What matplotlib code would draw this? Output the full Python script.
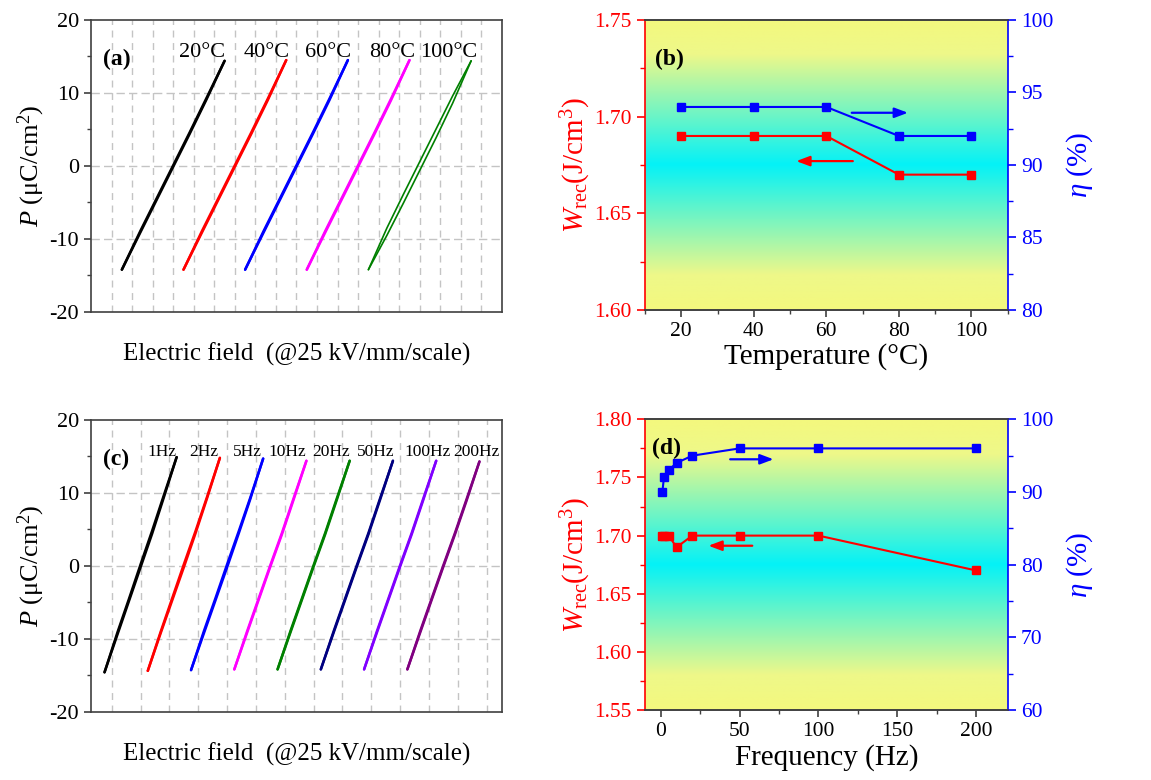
import matplotlib

matplotlib.use("Agg")
import matplotlib.pyplot as plt
import numpy as np
from matplotlib.colors import LinearSegmentedColormap
from matplotlib.ticker import MultipleLocator

plt.rcParams.update(
    {
        "font.family": "Liberation Serif",
        "mathtext.fontset": "custom",
        "mathtext.rm": "Liberation Serif",
        "mathtext.it": "Liberation Serif:italic",
        "mathtext.bf": "Liberation Serif:bold",
        "axes.linewidth": 1.2,
        "axes.unicode_minus": False,
    }
)

# ── P-E loops (field in kV/mm, polarisation in uC/cm2) ────────────────────────
E_KV = [-62.5, -40, -20, 0, 20, 40, 62.5]

TEMP_LABELS = ["20°C", "40°C", "60°C", "80°C", "100°C"]
TEMP_COLORS = ["black", "#ff0000", "#0000ff", "#ff00ff", "#008000"]
TEMP_RISE = [
    [-14.2, -9.1, -4.6, -0.1, 4.4, 9.0, 14.4],
    [-14.2, -9.1, -4.6, -0.1, 4.4, 9.0, 14.5],
    [-14.2, -9.1, -4.6, -0.1, 4.4, 9.0, 14.5],
    [-14.2, -9.1, -4.6, -0.1, 4.4, 9.0, 14.5],
    [-14.2, -9.5, -5.1, -0.6, 3.9, 8.6, 14.4],
]
TEMP_FALL = [
    [-14.2, -8.9, -4.4, 0.1, 4.6, 9.2, 14.4],
    [-14.2, -8.9, -4.4, 0.1, 4.6, 9.2, 14.5],
    [-14.2, -8.9, -4.4, 0.1, 4.6, 9.2, 14.5],
    [-14.2, -8.9, -4.4, 0.1, 4.6, 9.2, 14.5],
    [-14.2, -8.5, -3.9, 0.6, 5.1, 9.6, 14.4],
]

FREQ_LABELS = ["1Hz", "2Hz", "5Hz", "10Hz", "20Hz", "50Hz", "100Hz", "200Hz"]
FREQ_COLORS = ["black", "#ff0000", "#0000ff", "#ff00ff", "#008000", "#000080", "#8000ff", "#800080"]
FREQ_RISE = [
    [-14.6, -9.4, -4.8, -0.2, 4.4, 9.3, 14.9],
    [-14.4, -9.2, -4.7, -0.2, 4.4, 9.2, 14.8],
    [-14.3, -9.2, -4.7, -0.2, 4.4, 9.1, 14.7],
    [-14.2, -9.1, -4.6, -0.1, 4.3, 9.0, 14.4],
    [-14.2, -9.1, -4.6, -0.1, 4.3, 9.0, 14.4],
    [-14.2, -9.1, -4.6, -0.1, 4.3, 9.0, 14.4],
    [-14.2, -9.1, -4.6, -0.1, 4.3, 9.0, 14.4],
    [-14.2, -9.1, -4.6, -0.1, 4.3, 8.9, 14.3],
]
FREQ_FALL = [
    [-14.6, -9.1, -4.5, 0.2, 4.8, 9.6, 14.9],
    [-14.4, -9.0, -4.4, 0.2, 4.7, 9.4, 14.8],
    [-14.3, -8.9, -4.4, 0.2, 4.7, 9.3, 14.7],
    [-14.2, -8.9, -4.4, 0.1, 4.5, 9.2, 14.4],
    [-14.2, -8.9, -4.4, 0.1, 4.5, 9.2, 14.4],
    [-14.2, -8.9, -4.4, 0.1, 4.5, 9.2, 14.4],
    [-14.2, -8.9, -4.4, 0.1, 4.5, 9.2, 14.4],
    [-14.2, -8.9, -4.4, 0.1, 4.5, 9.1, 14.3],
]

# ── energy storage vs temperature / frequency ─────────────────────────────────
TEMPS = [20, 40, 60, 80, 100]
W_TEMP = [1.69, 1.69, 1.69, 1.67, 1.67]
ETA_TEMP = [94, 94, 94, 92, 92]

FREQS = [1, 2, 5, 10, 20, 50, 100, 200]
W_FREQ = [1.70, 1.70, 1.70, 1.69, 1.70, 1.70, 1.70, 1.67]
ETA_FREQ = [90, 92, 93, 94, 95, 96, 96, 96]

RED, BLUE, FRAME, GRID = "#ff0000", "#0000ff", "#404040", "#c4c4c4"
BG = LinearSegmentedColormap.from_list(
    "bg", [(0, "#f4f87e"), (0.12, "#eef889"), (0.5, "#04f2f7"), (0.88, "#eef889"), (1, "#f4f87e")]
)


def loop_panel(ax, rise, fall, colors, labels, label_x, label_fs, tag, xlim, grid_step):
    for i, (r, f, col) in enumerate(zip(rise, fall, colors)):
        x = 4 + 3 * i + np.array(E_KV) / 25.0
        lw = 1.2 if abs(f[3] - r[3]) > 0.5 else 1.8   # open loop drawn thinner
        ax.plot(x, r, color=col, lw=lw, solid_capstyle="round")
        ax.plot(x, f, color=col, lw=lw, solid_capstyle="round")
    for lx, lab in zip(label_x, labels):
        ax.text(lx, 15.6, lab, ha="center", va="center", fontsize=label_fs)
    ax.text(0.03, 0.865, tag, transform=ax.transAxes, fontsize=17, fontweight="bold",
            ha="left", va="center")

    ax.set_xlim(*xlim)
    ax.set_ylim(-20, 20)
    ax.set_xticks(np.arange(grid_step, xlim[1] - 0.5, grid_step))
    ax.set_yticks([-20, -10, 0, 10, 20])
    ax.yaxis.set_minor_locator(MultipleLocator(5))
    ax.tick_params(axis="x", length=0, labelbottom=False)
    ax.tick_params(axis="y", direction="out", length=5, width=1.2, labelsize=16, color=FRAME)
    ax.tick_params(axis="y", which="minor", direction="out", length=3, width=1.0, color=FRAME)
    ax.grid(True, axis="x", color=GRID, ls=(0, (5, 4)), lw=1.0)
    for yv in (-10, 0, 10):
        ax.axhline(yv, color=GRID, ls=(0, (6, 3)), lw=1.0, zorder=0.5)
    for s in ax.spines.values():
        s.set_color(FRAME)
    ax.set_xlabel("Electric field  (@25 kV/mm/scale)", fontsize=18, labelpad=22)
    ax.set_ylabel(r"$P$ (μC/cm$^2$)", fontsize=19, labelpad=2)


def storage_panel(ax, x, w, eta, xlim, xmajor, wlim, wmajor, etalim, etamajor,
                  arrow_eta, arrow_w, xlabel, tag, tag_xy):
    ax.imshow(np.linspace(0, 1, 256).reshape(-1, 1), cmap=BG, extent=(0, 1, 0, 1),
              transform=ax.transAxes, aspect="auto", zorder=0)
    ax2 = ax.twinx()
    ax.plot(x, w, color=RED, lw=1.5, marker="s", ms=5.5, zorder=3)
    ax2.plot(x, eta, color=BLUE, lw=1.5, marker="s", ms=5.5, zorder=3)

    head = "-|>,head_length=0.8,head_width=0.3"
    ax2.annotate("", xy=arrow_eta[1], xytext=arrow_eta[0],
                 arrowprops=dict(arrowstyle=head, color=BLUE, lw=1.6, shrinkA=0, shrinkB=0))
    ax.annotate("", xy=arrow_w[1], xytext=arrow_w[0],
                arrowprops=dict(arrowstyle=head, color=RED, lw=1.6, shrinkA=0, shrinkB=0))

    ax.set_xlim(*xlim)
    ax.set_ylim(*wlim)
    ax2.set_ylim(*etalim)
    ax.xaxis.set_major_locator(MultipleLocator(xmajor))
    ax.xaxis.set_minor_locator(MultipleLocator(xmajor / 2))
    ax.yaxis.set_major_locator(MultipleLocator(wmajor))
    ax.yaxis.set_minor_locator(MultipleLocator(wmajor / 2))
    ax2.yaxis.set_major_locator(MultipleLocator(etamajor))
    ax2.yaxis.set_minor_locator(MultipleLocator(etamajor / 2))
    ax.yaxis.set_major_formatter(plt.FormatStrFormatter("%.2f"))

    ax.tick_params(axis="x", which="both", direction="out", color=FRAME, labelsize=15.5)
    ax.tick_params(axis="x", which="major", length=5, width=1.2)
    ax.tick_params(axis="x", which="minor", length=3, width=1.0)
    ax.tick_params(axis="y", which="both", direction="out", colors=RED, labelsize=15.5)
    ax.tick_params(axis="y", which="major", length=6, width=1.2)
    ax.tick_params(axis="y", which="minor", length=3.5, width=1.0)
    ax2.tick_params(axis="y", which="both", direction="out", colors=BLUE, labelsize=15.5)
    ax2.tick_params(axis="y", which="major", length=6, width=1.2)
    ax2.tick_params(axis="y", which="minor", length=3.5, width=1.0)

    for a in (ax, ax2):
        a.spines["top"].set_color(FRAME)
        a.spines["bottom"].set_color(FRAME)
    ax.spines["left"].set_color(RED)
    ax.spines["right"].set_visible(False)
    ax2.spines["left"].set_visible(False)
    ax2.spines["right"].set_color(BLUE)

    ax.set_xlabel(xlabel, fontsize=21, labelpad=2)
    ax.set_ylabel(r"$W_{\rm rec}$(J/cm$^3$)", fontsize=21, color=RED, labelpad=1)
    ax2.set_ylabel(r"$\eta$ (%)", fontsize=21, color=BLUE, labelpad=8)
    ax.text(*tag_xy, tag, transform=ax.transAxes, fontsize=17, fontweight="bold",
            ha="left", va="center", zorder=4)


fig = plt.figure(figsize=(11.51, 7.80), dpi=100)

ax_a = fig.add_axes([0.0791, 0.600, 0.3570, 0.3744])
loop_panel(ax_a, TEMP_RISE, TEMP_FALL, TEMP_COLORS, TEMP_LABELS,
           [5.39, 8.55, 11.55, 14.67, 17.39], 16, "(a)", (0, 20), 1)

ax_c = fig.add_axes([0.0791, 0.0876, 0.3570, 0.3740])
loop_panel(ax_c, FREQ_RISE, FREQ_FALL, FREQ_COLORS, FREQ_LABELS,
           [5.47, 8.40, 11.43, 14.18, 17.19, 20.33, 23.91, 27.31], 12.5, "(c)", (0.565, 29.06), 2)

ax_b = fig.add_axes([0.5604, 0.6026, 0.3151, 0.3718])
storage_panel(ax_b, TEMPS, W_TEMP, ETA_TEMP, (10, 110), 20, (1.60, 1.75), 0.05, (80, 100), 5,
              ((67, 93.6), (82.5, 93.6)), ((67.3, 1.677), (51.7, 1.677)),
              "Temperature (°C)", "(b)", (0.028, 0.865))

ax_d = fig.add_axes([0.5604, 0.0897, 0.3151, 0.3727])
storage_panel(ax_d, FREQS, W_FREQ, ETA_FREQ, (-10, 220), 50, (1.55, 1.80), 0.05, (60, 100), 10,
              ((44, 94.5), (71.5, 94.5)), ((58, 1.6913), (30.2, 1.6913)),
              "Frequency (Hz)", "(d)", (0.018, 0.9))

fig.savefig("out.png", dpi=100)
